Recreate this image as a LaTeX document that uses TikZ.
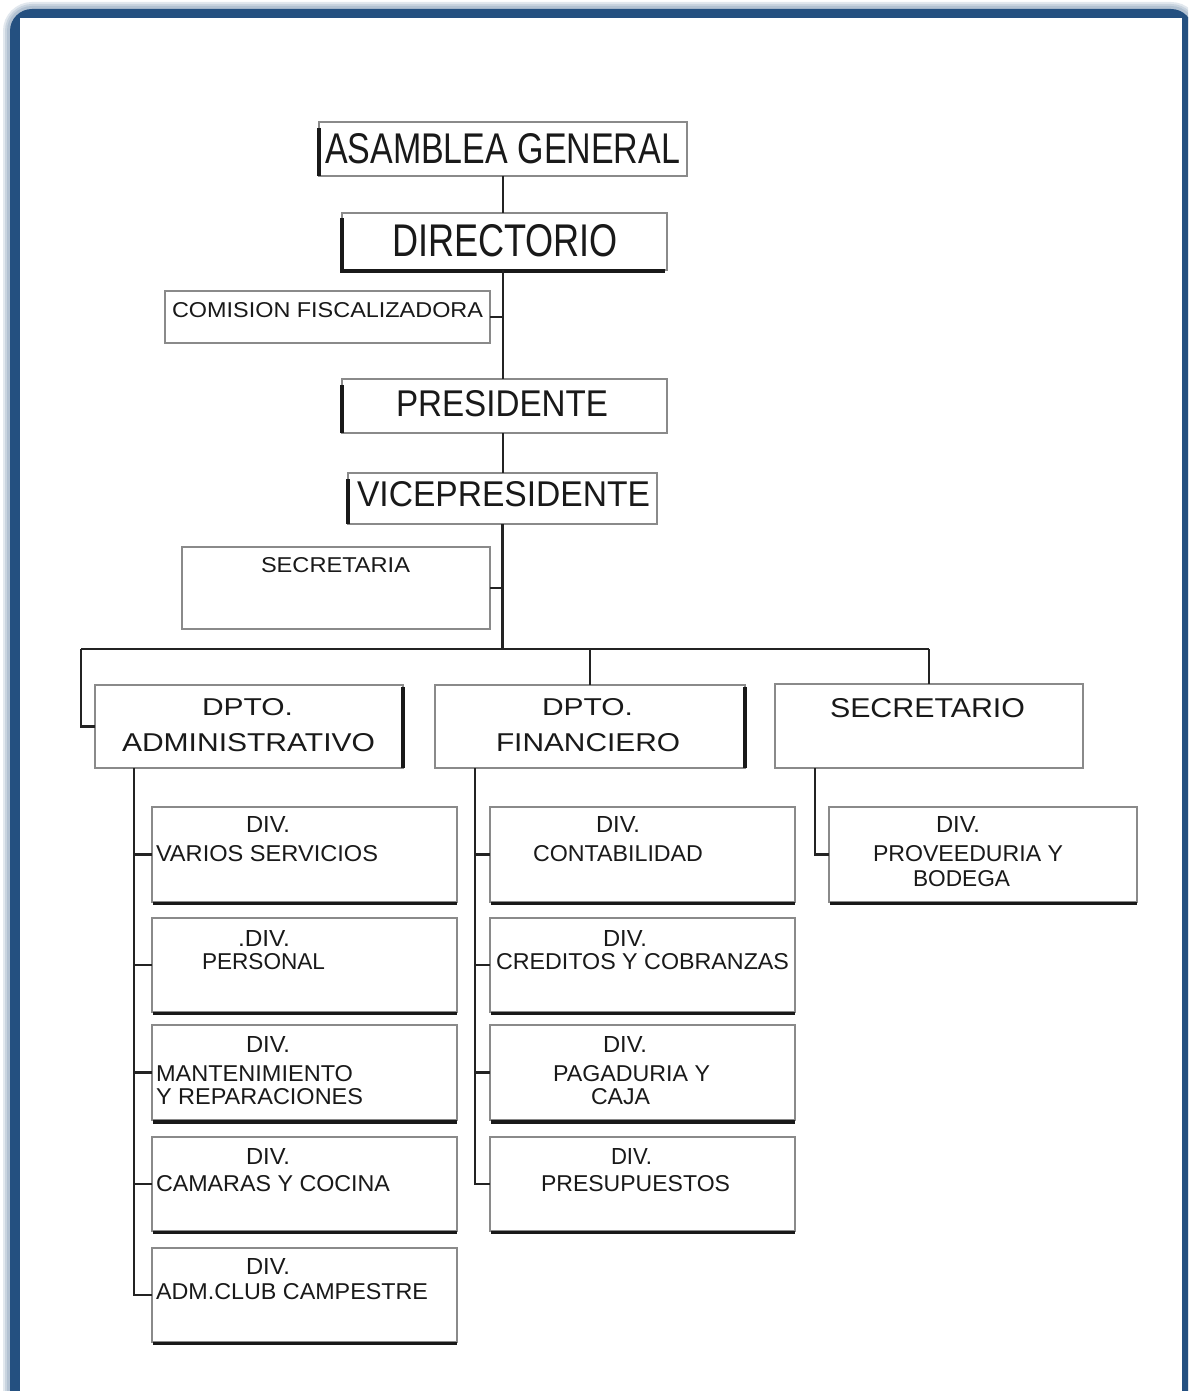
\documentclass[tikz,border=0pt]{standalone}
\usepackage{fontspec}
\usepackage{graphicx}
\usetikzlibrary{fit}
\newfontfamily\lblfont{Liberation Sans}
\definecolor{framecol}{RGB}{36,80,128}
\definecolor{edgegray}{RGB}{138,138,138}
\definecolor{inkcol}{RGB}{25,25,25}
\definecolor{wirecol}{RGB}{35,35,35}
% box from its two corners (pixel grid, y downwards)
\newcommand\bx[5]{\node[box, fit={(#2,#3) (#4,#5)}] (#1) {};}
% text line: name, base-left point, width, cap height, text
\newcommand\txt[5]{\node[lbl] (#1) at (#2) {\resizebox{#3pt}{#4pt}{\lblfont #5}};}
% dark shadow under a division box
\newcommand\divshadow[1]{\draw[heavy] ([xshift=1pt,yshift=-1.5pt]#1.south west) -- ([yshift=-1.5pt]#1.south east);}
\begin{document}
\begin{tikzpicture}[x=1pt,y=-1pt,
  box/.style={draw=edgegray, line width=1.6pt, fill=white, inner sep=0pt, outer sep=0pt},
  lbl/.style={anchor=base west, inner sep=0pt, outer sep=0pt, text=inkcol},
  wire/.style={draw=wirecol, line width=2.6pt},
  heavy/.style={draw=black!90, line width=3.2pt}]
\clip (0,0) rectangle (1188,1391);
\fill[white] (0,0) rectangle (1188,1391);
% outer frame: soft glow, blue band, white page
\foreach \w in {14,10,6}
  \draw[framecol, opacity=0.13, line width=\w pt, rounded corners=22pt] (10,9) rectangle (1193,1440);
\fill[framecol, rounded corners=22pt] (10,9) rectangle (1193,1440);
\fill[white] (20,18) rectangle (1182,1440);

% boxes
\bx{ag}{319}{122}{687}{176}
\bx{dir}{342}{213}{667}{270}
\bx{com}{165}{291}{490}{343}
\bx{pres}{342}{379}{667}{433}
\bx{vp}{348}{473}{657}{524}
\bx{sria}{182}{547}{490}{629}
\bx{adm}{95}{685}{403}{768}
\bx{fin}{435}{685}{745}{768}
\bx{sec}{775}{684}{1083}{768}
\bx{av}{152}{807}{457}{902}
\bx{ap}{152}{918}{457}{1012}
\bx{am}{152}{1025}{457}{1120}
\bx{ac}{152}{1137}{457}{1231}
\bx{aa}{152}{1248}{457}{1342}
\bx{fc}{490}{807}{795}{902}
\bx{fr}{490}{918}{795}{1012}
\bx{fp}{490}{1025}{795}{1120}
\bx{fs}{490}{1137}{795}{1231}
\bx{sp}{829}{807}{1137}{902}

% heavy edges
\draw[heavy] ([yshift=-6pt]ag.north west) -- (ag.south west);
\draw[heavy] ([yshift=-5pt]dir.north west) -- ([yshift=-1pt]dir.south west) -- ([xshift=-2pt,yshift=-1pt]dir.south east);
\draw[heavy] ([yshift=-6pt]pres.north west) -- (pres.south west);
\draw[heavy] ([yshift=-6pt]vp.north west) -- (vp.south west);
\draw[heavy] ([yshift=-2pt]adm.north east) -- (adm.south east);
\draw[heavy] ([yshift=-2pt]fin.north east) -- (fin.south east);
\divshadow{av}\divshadow{ap}\divshadow{ac}\divshadow{aa}
\divshadow{fc}\divshadow{fr}\divshadow{fs}\divshadow{sp}
\draw[heavy, line width=4.5pt] ([xshift=1pt,yshift=-2pt]am.south west) -- ([yshift=-2pt]am.south east);
\draw[heavy, line width=4.5pt] ([xshift=1pt,yshift=-2pt]fp.south west) -- ([yshift=-2pt]fp.south east);

% connectors
\coordinate (busL) at (81,649);
\coordinate (busR) at (929,649);
\coordinate (admDown) at (134,768);
\coordinate (finDown) at (475,768);
\coordinate (secDown) at (815,768);
\draw[wire] (ag.south) -- (ag.south |- dir.north);
\draw[wire] (ag.south |- dir.south) -- (ag.south |- pres.north);
\draw[wire] (com.east) -- (com.east -| ag.south);
\draw[wire] (ag.south |- pres.south) -- (ag.south |- vp.north);
\draw[wire] (vp.south) -- (vp.south |- busL);
\draw[wire] (sria.east) -- (sria.east -| vp.south);
\draw[wire] (busL) -- (busR);
\draw[wire] (busL) |- (adm.west);
\draw[wire] (fin.north |- busL) -- (fin.north);
\draw[wire] (busR) -- (busR |- sec.north);
\draw[wire] (admDown) |- (aa.west);
\foreach \n in {av,ap,am,ac} \draw[wire] (\n.west -| admDown) -- (\n.west);
\draw[wire] (finDown) |- (fs.west);
\foreach \n in {fc,fr,fp} \draw[wire] (\n.west -| finDown) -- (\n.west);
\draw[wire] (secDown) |- (sp.west);

% texts
\txt{t-ag}{325,164}{355}{30}{ASAMBLEA GENERAL}
\txt{t-dir}{392,256}{226}{32}{DIRECTORIO}
\txt{t-com}{172,317}{311}{15}{COMISION FISCALIZADORA}
\txt{t-pres}{396,416}{212}{26}{PRESIDENTE}
\txt{t-vp}{357,506}{293}{25}{VICEPRESIDENTE}
\txt{t-sria}{261,572}{149}{15}{SECRETARIA}
\txt{t-adm1}{202,715}{91}{17}{DPTO.}
\txt{t-adm2}{122,751}{253}{18}{ADMINISTRATIVO}
\txt{t-fin1}{542,715}{91}{17}{DPTO.}
\txt{t-fin2}{496,751}{184}{18}{FINANCIERO}
\txt{t-sec}{830,717}{195}{19}{SECRETARIO}
\txt{t-av1}{246,832}{44}{16}{DIV.}
\txt{t-av2}{156,861}{222}{16}{VARIOS SERVICIOS}
\txt{t-ap1}{238,946}{52}{16}{.DIV.}
\txt{t-ap2}{202,969}{123}{16}{PERSONAL}
\txt{t-am1}{246,1052}{44}{16}{DIV.}
\txt{t-am2}{156,1081}{197}{16}{MANTENIMIENTO}
\txt{t-am3}{156,1104}{207}{16}{Y REPARACIONES}
\txt{t-ac1}{246,1164}{44}{16}{DIV.}
\txt{t-ac2}{156,1191}{234}{16}{CAMARAS Y COCINA}
\txt{t-aa1}{246,1274}{44}{16}{DIV.}
\txt{t-aa2}{156,1299}{272}{16}{ADM.CLUB CAMPESTRE}
\txt{t-fc1}{596,832}{44}{16}{DIV.}
\txt{t-fc2}{533,861}{170}{16}{CONTABILIDAD}
\txt{t-fr1}{603,946}{44}{16}{DIV.}
\txt{t-fr2}{496,969}{293}{16}{CREDITOS Y COBRANZAS}
\txt{t-fp1}{603,1052}{44}{16}{DIV.}
\txt{t-fp2}{553,1081}{157}{16}{PAGADURIA Y}
\txt{t-fp3}{591,1104}{59}{16}{CAJA}
\txt{t-fs1}{611,1164}{41}{16}{DIV.}
\txt{t-fs2}{541,1191}{189}{16}{PRESUPUESTOS}
\txt{t-sp1}{936,832}{44}{16}{DIV.}
\txt{t-sp2}{873,861}{190}{16}{PROVEEDURIA Y}
\txt{t-sp3}{913,886}{97}{16}{BODEGA}
\end{tikzpicture}
\end{document}
